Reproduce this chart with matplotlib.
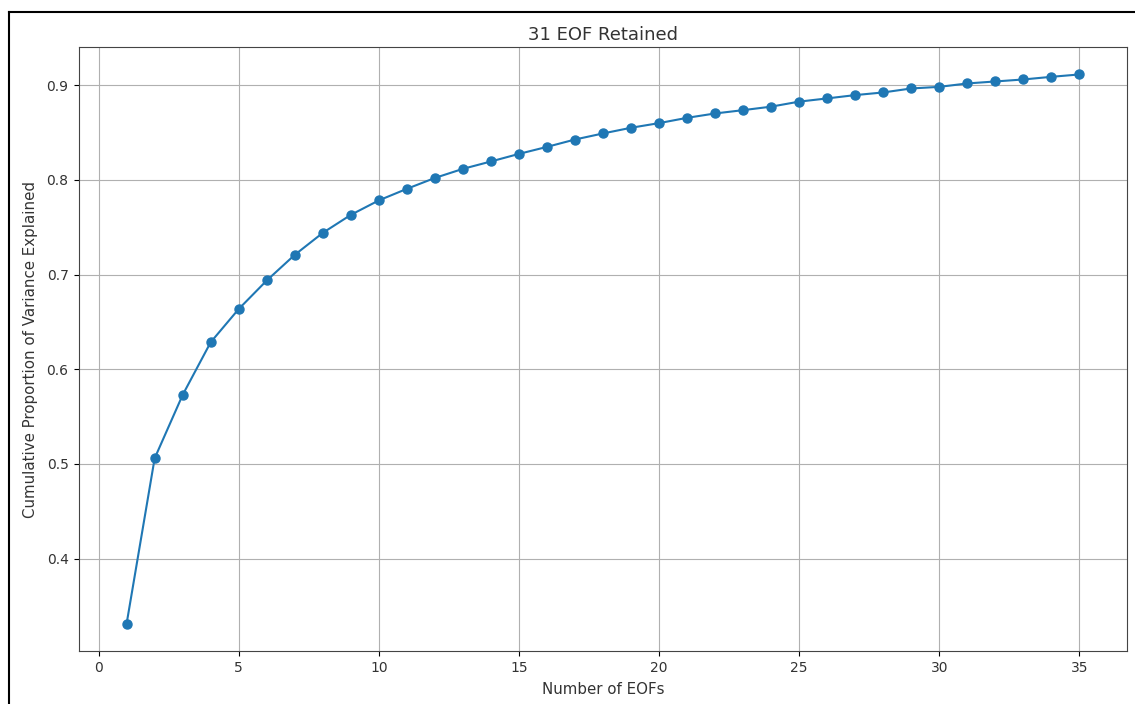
import matplotlib
matplotlib.use("Agg")
import matplotlib.pyplot as plt
from matplotlib.lines import Line2D

n_eofs = list(range(1, 36))
cum_var = [0.3314, 0.5059, 0.5729, 0.6285, 0.6636, 0.6937, 0.7208, 0.7440, 0.7630,
           0.7783, 0.7905, 0.8020, 0.8116, 0.8194, 0.8274, 0.8348, 0.8426, 0.8490,
           0.8550, 0.8599, 0.8655, 0.8701, 0.8736, 0.8773, 0.8826, 0.8860, 0.8895,
           0.8923, 0.8965, 0.8982, 0.9018, 0.9039, 0.9060, 0.9088, 0.9113]
title = "31 EOF Retained"
xlabel = "Number of EOFs"
ylabel = "Cumulative Proportion of Variance Explained"

W, H = 1135, 704
fig = plt.figure(figsize=(W / 100, H / 100), dpi=100)
ax = fig.add_axes([79 / W, 1 - 651 / H, (1127 - 79) / W, (651 - 47) / H])
ax.plot(n_eofs, cum_var, marker="o", color="#1f77b4", markersize=6.5, linewidth=1.5)
ax.grid(True, color="#b0b0b0", linewidth=0.8)
ax.set_title(title, fontsize=13, color="#333333", pad=5)
ax.set_xlabel(xlabel, fontsize=10.8, color="#333333", labelpad=5)
ax.set_ylabel(ylabel, fontsize=10.8, color="#333333", labelpad=6)
ax.tick_params(labelsize=10, labelcolor="#333333", pad=4)
for s in ax.spines.values():
    s.set_color("#444444")

# screenshot frame lines (left and top)
fig.add_artist(Line2D([9 / W, 9 / W], [0, 1 - 12 / H], color="black", linewidth=1.5,
                      transform=fig.transFigure))
fig.add_artist(Line2D([9 / W, 1], [1 - 12 / H, 1 - 12 / H], color="black", linewidth=1.5,
                      transform=fig.transFigure))

fig.savefig("out.png", dpi=100)
